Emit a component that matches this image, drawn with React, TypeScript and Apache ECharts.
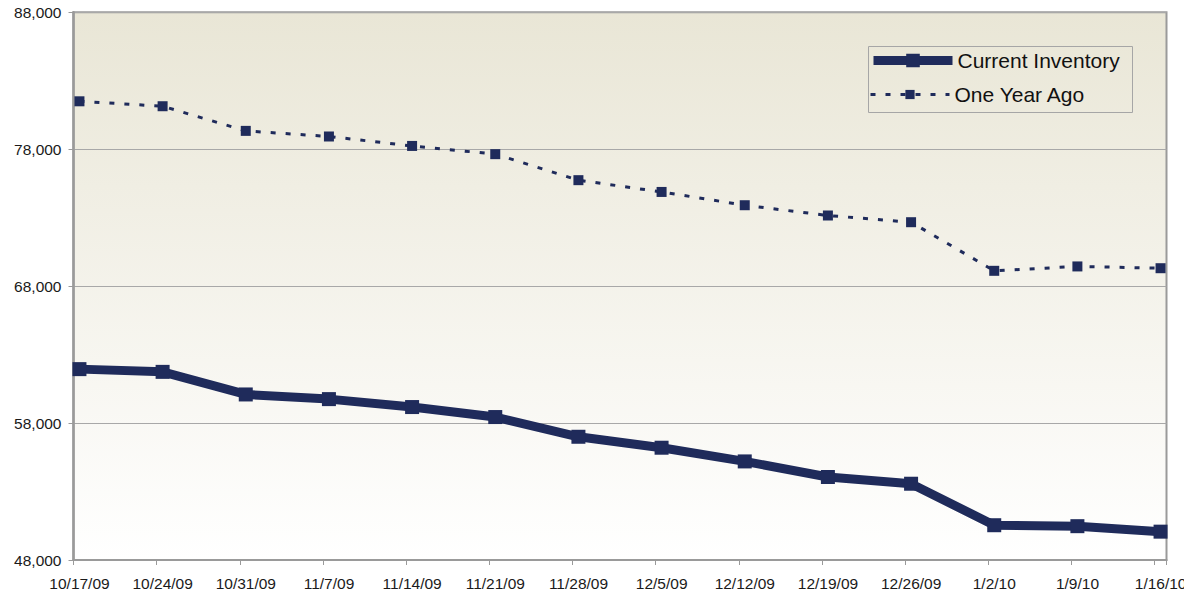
import React, { useEffect, useRef } from 'react';
import * as echarts from 'echarts';

const weekLabels = ['10/17/09', '10/24/09', '10/31/09', '11/7/09', '11/14/09', '11/21/09', '11/28/09', '12/5/09', '12/12/09', '12/19/09', '12/26/09', '1/2/10', '1/9/10', '1/16/10'];
const currentInventory = [61940, 61740, 60090, 59750, 59170, 58440, 57000, 56200, 55200, 54060, 53570, 50540, 50470, 50070];
const oneYearAgo = [81500, 81140, 79340, 78930, 78240, 77640, 75740, 74880, 73910, 73160, 72670, 69120, 69440, 69310];
const seriesNames = ['Current Inventory', 'One Year Ago'];
const yMin = 48000;
const yMax = 88000;
const yStep = 10000;
const daysPerWeek = 7;

const NAVY = '#1F2B5B';
const FONT = '"Liberation Sans", Arial, sans-serif';

export default function App() {
  const ref = useRef<HTMLDivElement>(null);
  useEffect(() => {
    document.body.style.margin = '0';
    const chart = echarts.init(ref.current!, null, { renderer: 'svg' });
    // Excel date axis: points sit in the middle of their day slot
    const toPoints = (vals: number[]) => vals.map((v, i) => [i * daysPerWeek + 0.5, v]);
    chart.setOption({
      animation: false,
      backgroundColor: '#ffffff',
      textStyle: { fontFamily: FONT },
      grid: {
        left: 73.5,
        top: 12.3,
        right: 17.5,
        bottom: 34,
        containLabel: false,
        outerBoundsMode: 'none',
        show: true,
        borderColor: '#9A9A9A',
        borderWidth: 2,
        backgroundColor: new echarts.graphic.LinearGradient(0, 0, 0, 1, [
          { offset: 0, color: '#E9E6D6' },
          { offset: 1, color: '#FFFFFF' },
        ]),
      },
      xAxis: {
        type: 'value',
        min: 0,
        max: weekLabels.length * daysPerWeek - 6,
        interval: daysPerWeek,
        axisLine: { show: true, lineStyle: { color: '#9A9A9A', width: 2 } },
        axisTick: { show: true, length: 5, lineStyle: { color: '#9A9A9A', width: 1 } },
        splitLine: { show: false },
        axisLabel: {
          color: '#1a1a1a',
          fontSize: 15.5,
          fontFamily: FONT,
          margin: 15,
          padding: [0, 0, 0, 12],
          hideOverlap: false,
          formatter: (v: number) => (v % daysPerWeek === 0 ? weekLabels[v / daysPerWeek] ?? '' : ''),
        },
      },
      yAxis: {
        type: 'value',
        min: yMin,
        max: yMax,
        interval: yStep,
        axisLine: { show: true, lineStyle: { color: '#9A9A9A', width: 2.5 } },
        axisTick: { show: true, length: 5, lineStyle: { color: '#9A9A9A', width: 1 } },
        splitLine: { show: true, lineStyle: { color: '#A8A8A8', width: 1 } },
        axisLabel: {
          color: '#1a1a1a',
          fontSize: 15.5,
          fontFamily: FONT,
          margin: 12,
          formatter: (v: number) => v.toLocaleString('en-US'),
        },
      },
      legend: [
        {
          data: [seriesNames[0]],
          orient: 'vertical',
          left: 869,
          top: 50,
          padding: 0,
          itemWidth: 79,
          itemHeight: 17,
          textStyle: { fontSize: 21, color: '#111111', fontFamily: FONT },
          lineStyle: { width: 9, type: 'solid' },
        },
        {
          data: [seriesNames[1]],
          orient: 'vertical',
          left: 869,
          top: 84,
          padding: 0,
          itemWidth: 79,
          itemHeight: 11.5,
          textStyle: { fontSize: 21, color: '#111111', fontFamily: FONT },
          lineStyle: { width: 3, type: [5, 10] },
        },
      ],
      graphic: [
        {
          type: 'rect',
          left: 866,
          top: 44,
          shape: { width: 264, height: 66 },
          style: { fill: 'none', stroke: '#A6A6A6', lineWidth: 1 },
          silent: true,
        },
      ],
      series: [
        {
          name: seriesNames[0],
          type: 'line',
          data: toPoints(currentInventory),
          symbol: 'rect',
          symbolSize: 14,
          lineStyle: { color: NAVY, width: 9 },
          itemStyle: { color: NAVY },
          z: 3,
        },
        {
          name: seriesNames[1],
          type: 'line',
          data: toPoints(oneYearAgo),
          symbol: 'rect',
          symbolSize: 10,
          lineStyle: { color: NAVY, width: 3, type: [5, 10] },
          itemStyle: { color: NAVY },
          z: 2,
        },
      ],
    });
    return () => chart.dispose();
  }, []);
  return <div ref={ref} style={{ width: 1184, height: 594 }} />;
}
